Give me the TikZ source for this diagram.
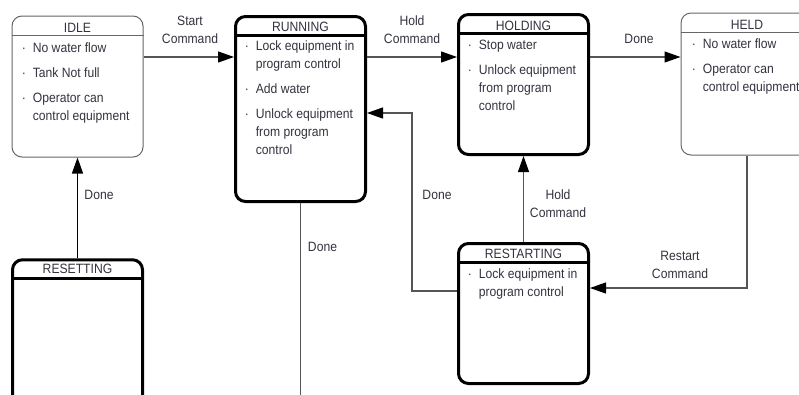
\documentclass[tikz,border=0pt]{standalone}
\usepackage{fontspec}
\setmainfont{Liberation Sans}[FakeStretch=0.9]
\usetikzlibrary{arrows.meta}
\definecolor{txt}{HTML}{33333F}
\definecolor{linegray}{HTML}{555555}
\definecolor{boxgray}{HTML}{666666}
\newcommand{\itemtab}[1]{\begin{tabular}[t]{@{}l@{\hspace{7pt}}l@{}}#1\end{tabular}}
\newcommand{\twoline}[2]{\begin{tabular}[t]{@{}c@{}}#1\\#2\end{tabular}}
\tikzset{
 thinbox/.style={draw=boxgray, line width=1pt, rounded corners=10pt, fill=white, inner sep=0pt},
 thickbox/.style={draw=black, line width=3pt, rounded corners=10pt, fill=white, inner sep=0pt},
 txtstyle/.style={inner sep=0pt, text=txt, font=\fontsize{13.5}{18}\selectfont},
 title/.style={txtstyle, anchor=base},
 body/.style={txtstyle, anchor=base west},
 lbl/.style={txtstyle, anchor=base},
 conn/.style={draw=linegray, line width=1.2pt, -{Triangle[length=16pt,width=11pt,color=black]}},
 plain/.style={draw=linegray, line width=1.2pt},
}
\begin{document}
\begin{tikzpicture}[x=1pt,y=-1pt]
\useasboundingbox (0,0) rectangle (799,394);
\clip (0,0) rectangle (799,394);
\fill[white] (0,0) rectangle (799,394);

% boxes
\node[thinbox, minimum width=131pt, minimum height=141pt] (idle) at (77.5,86.5) {};
\node[thickbox, minimum width=130pt, minimum height=185pt] (running) at (300.5,109) {};
\node[thickbox, minimum width=130pt, minimum height=140pt] (holding) at (523.5,84.5) {};
\node[thinbox, minimum width=132pt, minimum height=142pt] (held) at (747,84) {};
\node[thickbox, minimum width=130pt, minimum height=170pt] (resetting) at (77.5,344.75) {};
\node[thickbox, minimum width=130pt, minimum height=140pt] (restarting) at (523.5,313.5) {};

% header separators
\draw[draw=boxgray, line width=1pt] ([yshift=-20pt]idle.north west) -- ([yshift=-20pt]idle.north east);
\draw[line width=3pt] ([yshift=-20pt]running.north west) -- ([yshift=-20pt]running.north east);
\draw[line width=3pt] ([yshift=-20pt]holding.north west) -- ([yshift=-20pt]holding.north east);
\draw[draw=boxgray, line width=1pt] ([yshift=-20pt]held.north west) -- ([yshift=-20pt]held.north east);
\draw[line width=3pt] ([yshift=-20pt]resetting.north west) -- ([yshift=-20pt]resetting.north east);
\draw[line width=3pt] ([yshift=-20pt]restarting.north west) -- ([yshift=-20pt]restarting.north east);

% titles
\node[title] (idle-t) at (idle.north |- 0,32) {IDLE};
\node[title] (running-t) at (running.north |- 0,31) {RUNNING};
\node[title] (holding-t) at (holding.north |- 0,30) {HOLDING};
\node[title] (held-t) at (held.north |- 0,29) {HELD};
\node[title] (resetting-t) at (resetting.north |- 0,273) {RESETTING};
\node[title] (restarting-t) at (restarting.north |- 0,258) {RESTARTING};

% bodies
\node[body] (idle-b) at (21.6,52) {\itemtab{· & No water flow\\[7pt] · & Tank Not full\\[7pt] · & Operator can\\ & control equipment}};
\node[body] (running-b) at (244.6,50) {\itemtab{· & Lock equipment in\\ & program control\\[7pt] · & Add water\\[7pt] · & Unlock equipment\\ & from program\\ & control}};
\node[body] (holding-b) at (467.6,49) {\itemtab{· & Stop water\\[7pt] · & Unlock equipment\\ & from program\\ & control}};
\node[body] (held-b) at (691.6,48) {\itemtab{· & No water flow\\[7pt] · & Operator can\\ & control equipment}};
\node[body] (restarting-b) at (467.6,278) {\itemtab{· & Lock equipment in\\ & program control}};

% connectors
\coordinate (bend) at (412,113);
\coordinate (rundown) at (300.5,400);
\draw[conn] (idle.east |- 0,57) -- (running.west |- 0,57);
\draw[conn] (running.east |- 0,57) -- (holding.west |- 0,57);
\draw[conn] (holding.east |- 0,57) -- (held.west |- 0,57);
\draw[conn] (held.south) |- (restarting.east |- 0,288);
\draw[conn] (restarting.north) -- (holding.south);
\draw[conn] (restarting.west |- 0,291) -| (bend) -- (running.east |- bend);
\draw[conn, draw=black] (resetting.north) -- (idle.south);
\draw[plain] (running.south) -- (rundown);

% labels
\node[lbl] (l-start) at (190,25) {\twoline{Start}{Command}};
\node[lbl] (l-hold1) at (412,25) {\twoline{Hold}{Command}};
\node[lbl] (l-done1) at (639,43) {Done};
\node[lbl] (l-done2) at (99,199) {Done};
\node[lbl] (l-done3) at (322.5,251) {Done};
\node[lbl] (l-done4) at (437,199) {Done};
\node[lbl] (l-hold2) at (558,199) {\twoline{Hold}{Command}};
\node[lbl] (l-restart) at (680,260) {\twoline{Restart}{Command}};
\end{tikzpicture}
\end{document}
